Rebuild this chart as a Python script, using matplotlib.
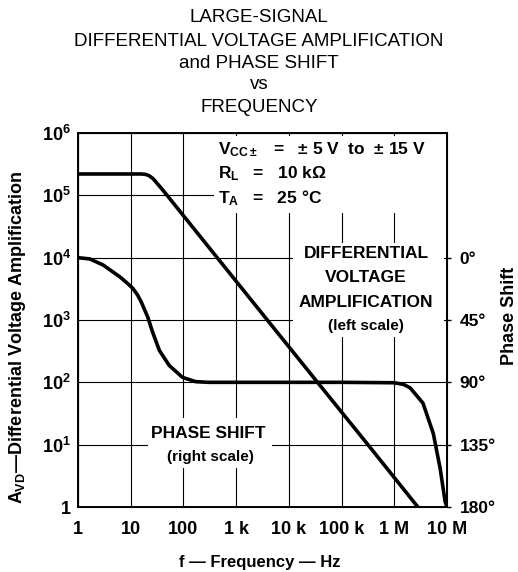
import numpy as np
import matplotlib
matplotlib.use("Agg")
import matplotlib.pyplot as plt
from matplotlib.patches import Rectangle

plt.rcParams['font.family'] = ['Liberation Sans', 'DejaVu Sans']
plt.rcParams['mathtext.fontset'] = 'custom'
plt.rcParams['mathtext.rm'] = 'Liberation Sans:bold'
plt.rcParams['mathtext.it'] = 'Liberation Sans:bold'
plt.rcParams['mathtext.bf'] = 'Liberation Sans:bold'

# differential voltage amplification (left scale)
gain_f = [1, 16, 19, 22, 26, 29, 38, 49, 437, 3900, 35000, 316000, 2.8e6]
gain_v = [2.2e5, 2.2e5, 2.17e5, 2.08e5, 1.88e5, 1.7e5, 1.3e5, 1e5, 1e4, 1e3, 100, 10, 1]

# phase shift in degrees (right scale)
phase_f = [1, 1.67, 3.0, 6.2, 8.3, 11, 13.5, 15.8, 21, 26, 35, 54, 96, 170, 300,
           1e4, 1e5, 1e6, 1.5e6, 2e6, 3.5e6, 5.5e6, 7.4e6, 9.2e6, 1e7]
phase_d = [0, 0.9, 5.3, 13.8, 17.9, 22.2, 27, 31.9, 42.8, 53.7, 67, 77.9, 86.4, 89.5, 90,
           90, 90, 90.3, 91.5, 94, 105, 127, 152, 176, 180]

x_ticks = [1, 10, 100, 1e3, 1e4, 1e5, 1e6, 1e7]
x_labels = ['1', '10', '100', '1 k', '10 k', '100 k', '1 M', '10 M']
y_ticks = [1, 10, 100, 1e3, 1e4, 1e5, 1e6]
y_labels = ['1', r'$10^{1}$', r'$10^{2}$', r'$10^{3}$', r'$10^{4}$', r'$10^{5}$', r'$10^{6}$']
ph_ticks = [0, 45, 90, 135, 180]
ph_labels = ['0°', '45°', '90°', '135°', '180°']

W, H = 518, 572
def fx(x):
    return x / W
def fy(y):
    return 1 - y / H

fig = plt.figure(figsize=(W/100, H/100), dpi=100)
ax = fig.add_axes([fx(78), fy(507), 369/W, 374/H])
ax.set_xscale('log')
ax.set_yscale('log')
ax.set_xlim(1, 1e7)
ax.set_ylim(1, 1e6)
ax.set_xticks(x_ticks)
ax.set_xticklabels(x_labels, fontsize=13, fontweight='bold')
ax.set_yticks(y_ticks)
ax.set_yticklabels(y_labels, fontsize=13, fontweight='bold')
ax.minorticks_off()
ax.tick_params(axis='x', length=0, pad=10)
ax.tick_params(axis='y', length=0, pad=5)
ax.grid(True, color='black', lw=0.8)
for s in ax.spines.values():
    s.set_linewidth(1.4)

# white gaps in the grid behind the annotations
for x0, y0, x1, y1 in [(214, 136, 446, 213), (293, 243, 444, 337), (148, 418, 272, 468)]:
    ax.add_patch(Rectangle((fx(x0), fy(y1)), (x1-x0)/W, (y1-y0)/H, transform=fig.transFigure,
                           facecolor='white', edgecolor='none', zorder=1.7))

ax.plot(gain_f, gain_v, color='black', lw=2.6, zorder=3)

ax2 = ax.twinx()
ax2.set_ylim(180, -90)
ax2.set_yticks(ph_ticks)
ax2.set_yticklabels(ph_labels, fontsize=12.5, fontweight='bold')
ax2.tick_params(length=3, pad=6, width=1)
ax2.plot(phase_f, phase_d, color='black', lw=2.6)

ax2.text(fx(218), fy(150), r'$V_{CC\pm}$   =   ± 5 V  to  ± 15 V', fontsize=12.5, fontweight='bold',
         ha='left', va='center', transform=fig.transFigure)
ax2.text(fx(218), fy(174), r'$R_L$   =   10 kΩ', fontsize=12.5, fontweight='bold',
         ha='left', va='center', transform=fig.transFigure)
ax2.text(fx(218), fy(198), r'$T_A$   =   25 °C', fontsize=12.5, fontweight='bold',
         ha='left', va='center', transform=fig.transFigure)
for t, yy in [('DIFFERENTIAL', 254), ('VOLTAGE', 278), ('AMPLIFICATION', 302)]:
    ax2.text(fx(366), fy(yy), t, fontsize=12.5, fontweight='bold',
             ha='center', va='center', transform=fig.transFigure)
ax2.text(fx(366), fy(326), '(left scale)', fontsize=11, fontweight='bold',
         ha='center', va='center', transform=fig.transFigure)
ax2.text(fx(208), fy(433), 'PHASE SHIFT', fontsize=12.5, fontweight='bold',
         ha='center', va='center', transform=fig.transFigure)
ax2.text(fx(210), fy(457), '(right scale)', fontsize=11, fontweight='bold',
         ha='center', va='center', transform=fig.transFigure)

fig.text(fx(18), fy(338), r'$A_{VD}$' + '—Differential Voltage Amplification', rotation=90,
         fontsize=13, fontweight='bold', ha='center', va='center')
fig.text(fx(509), fy(316), 'Phase Shift', rotation=90,
         fontsize=13, fontweight='bold', ha='center', va='center')
fig.text(fx(260), fy(563), 'f — Frequency — Hz', fontsize=12, fontweight='bold',
         ha='center', va='center')

title = ['LARGE-SIGNAL', 'DIFFERENTIAL VOLTAGE AMPLIFICATION', 'and PHASE SHIFT', 'vs', 'FREQUENCY']
title_y = [18, 41, 63, 85, 107]
for t, yy in zip(title, title_y):
    fig.text(fx(259), fy(yy), t, fontsize=13.5, ha='center', va='center')

fig.savefig('out.png', dpi=100)
